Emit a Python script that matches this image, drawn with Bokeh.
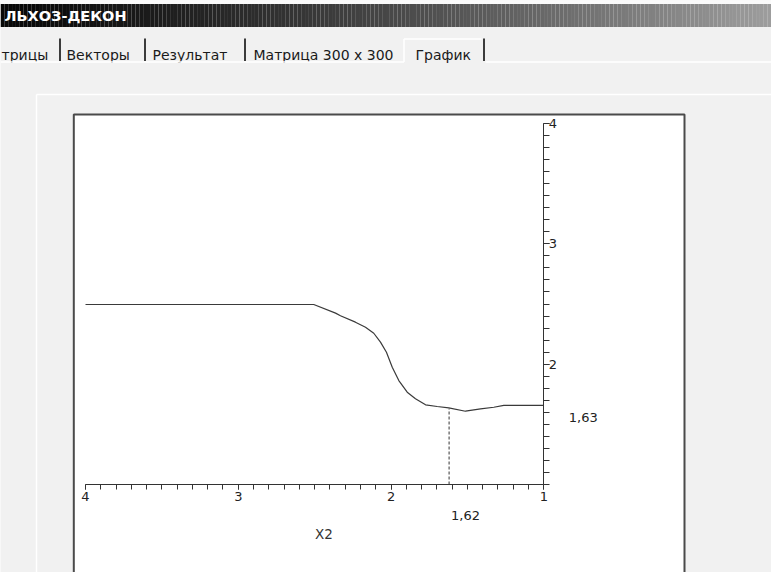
from bokeh.plotting import figure
from bokeh.models import Range1d, LinearAxis, FixedTicker, Label
from bokeh.embed import file_html
from bokeh.resources import INLINE
from bokeh.core.properties import value

# ---------------- data ----------------
x2_values = [4.0, 2.506, 2.363, 2.331, 2.233, 2.167, 2.113, 2.069, 2.030, 1.992,
             1.949, 1.894, 1.840, 1.774, 1.698, 1.622, 1.513, 1.414, 1.327, 1.262, 1.0]
y_values = [2.496, 2.496, 2.424, 2.402, 2.349, 2.307, 2.257, 2.183, 2.099, 1.975,
            1.864, 1.767, 1.712, 1.662, 1.648, 1.637, 1.609, 1.629, 1.642, 1.657, 1.657]
opt_x = 1.62
opt_y = 1.63
x_ticks = [1, 2, 3, 4]
y_ticks = [2, 3, 4]
axis_lo, axis_hi = 1, 4
x_label = "X2"
window_title = "ЛЬХОЗ-ДЕКОН"
tab_labels = ["трицы", "Векторы", "Результат", "Матрица 300 x 300", "График"]

# ---------------- layout helpers (screenshot pixel -> data) ----------------
W, H, M = 771, 572, 0
KX = (543.3 - 85.0) / 3.0
KY = (484.0 - 123.0) / 3.0


def dx(p):
    return 4.0 - (p - 85.0) / KX


def dy(q):
    return 1.0 + (484.0 - q) / KY


GREY = "#f1f1f1"
p = figure(width=W, height=H,
           x_range=Range1d(dx(M), dx(M + W)), y_range=Range1d(dy(M + H), dy(M)),
           x_axis_location=None, y_axis_location=None,
           toolbar_location=None, output_backend="svg", min_border=0,
           background_fill_color=GREY, border_fill_color=GREY, outline_line_color=None)
p.title.visible = False
p.grid.visible = False

# ---- window chrome ----
p.quad(left=dx(0), right=dx(771), top=dy(0), bottom=dy(3.5), fill_color="#fafafa", line_color=None)
n = 200
edges = [771.0 * i / n for i in range(n + 1)]
cols = []
for i in range(n):
    t = (i + 0.5) / n
    c = int(8 + 150 * t ** 1.25)
    cols.append("#%02x%02x%02x" % (c, c, c))
p.quad(left=[dx(e) for e in edges[:-1]], right=[dx(e) for e in edges[1:]],
       top=dy(3.5), bottom=dy(26.5), fill_color=cols, line_color=None)
p.text(x=[dx(4)], y=[dy(15.5)], text=[window_title], text_color="white",
       text_font=value("DejaVu Sans"), text_font_style="bold", text_font_size="14.5px",
       text_baseline="middle", text_align="left")

tab_left = [1, 66, 152, 253, 415]
p.text(x=[dx(v) for v in tab_left], y=[dy(54.5)] * len(tab_labels), text=tab_labels,
       text_color="#1a1a1a", text_font=value("DejaVu Sans"), text_font_size="14px",
       text_baseline="alphabetic", text_align="left")
# tab bottom highlight and selected-tab outline
p.segment(x0=[dx(0), dx(485), dx(403.5), dx(403.5)], y0=[dy(61.5), dy(61.5), dy(38.5), dy(38.5)],
          x1=[dx(403.5), dx(771), dx(403.5), dx(481)], y1=[dy(61.5), dy(61.5), dy(61.5), dy(38.5)],
          line_color="white", line_width=1.5)
seps = [59.5, 144.5, 244.5, 483.5]
p.segment(x0=[dx(s) for s in seps], y0=dy(38), x1=[dx(s) for s in seps], y1=dy(60.5),
          line_color="#3c3c3c", line_width=2)

# inner panel highlight
p.segment(x0=[dx(36), dx(36)], y0=[dy(94), dy(94)], x1=[dx(771), dx(36)], y1=[dy(94), dy(580)],
          line_color="white", line_width=1.5)

# plot box
p.quad(left=dx(73.3), right=dx(684), top=dy(114), bottom=dy(590),
       fill_color="white", line_color="#4a4a4a", line_width=2)

# ---- data ----
p.line(x2_values, y_values, line_color="#3a3a3a", line_width=1.2)
p.segment(x0=[opt_x], y0=[axis_lo], x1=[opt_x], y1=[opt_y],
          line_color="#333333", line_width=1, line_dash="3 2")

minor = [round(axis_lo + 0.1 * i, 1) for i in range(int((axis_hi - axis_lo) * 10) + 1)]
common = dict(bounds=(axis_lo, axis_hi), axis_line_color="#333333", axis_line_width=1,
              major_tick_line_color="#333333", minor_tick_line_color="#333333",
              major_label_text_font="DejaVu Sans", major_label_text_font_size="13px",
              major_label_text_color="#222222", fixed_location=1)
xaxis = LinearAxis(ticker=FixedTicker(ticks=x_ticks, minor_ticks=minor),
                   major_tick_in=0, major_tick_out=5, minor_tick_in=0, minor_tick_out=5,
                   major_label_standoff=2, **common)
yaxis = LinearAxis(ticker=FixedTicker(ticks=y_ticks, minor_ticks=minor),
                   major_tick_in=0, major_tick_out=6, minor_tick_in=0, minor_tick_out=6,
                   major_label_standoff=-1, **common)
p.add_layout(xaxis, "below")
p.add_layout(yaxis, "right")

fmt = lambda v: ("%.2f" % v).replace(".", ",")
lbl = dict(text_font="DejaVu Sans", text_baseline="middle")
p.add_layout(Label(x=opt_x, y=axis_lo, text=fmt(opt_x), x_offset=2, y_offset=-31,
                   text_align="left", text_font_size="13px", text_color="#222222", **lbl))
p.add_layout(Label(x=axis_lo, y=opt_y, text=fmt(opt_y), x_offset=25, y_offset=-8.5,
                   text_align="left", text_font_size="13px", text_color="#222222", **lbl))
p.add_layout(Label(x=2.44, y=axis_lo, text=x_label, y_offset=-49.5,
                   text_align="center", text_font_size="13.5px", text_color="#333333", **lbl))

open("out.html", "w").write(file_html(p, INLINE))
